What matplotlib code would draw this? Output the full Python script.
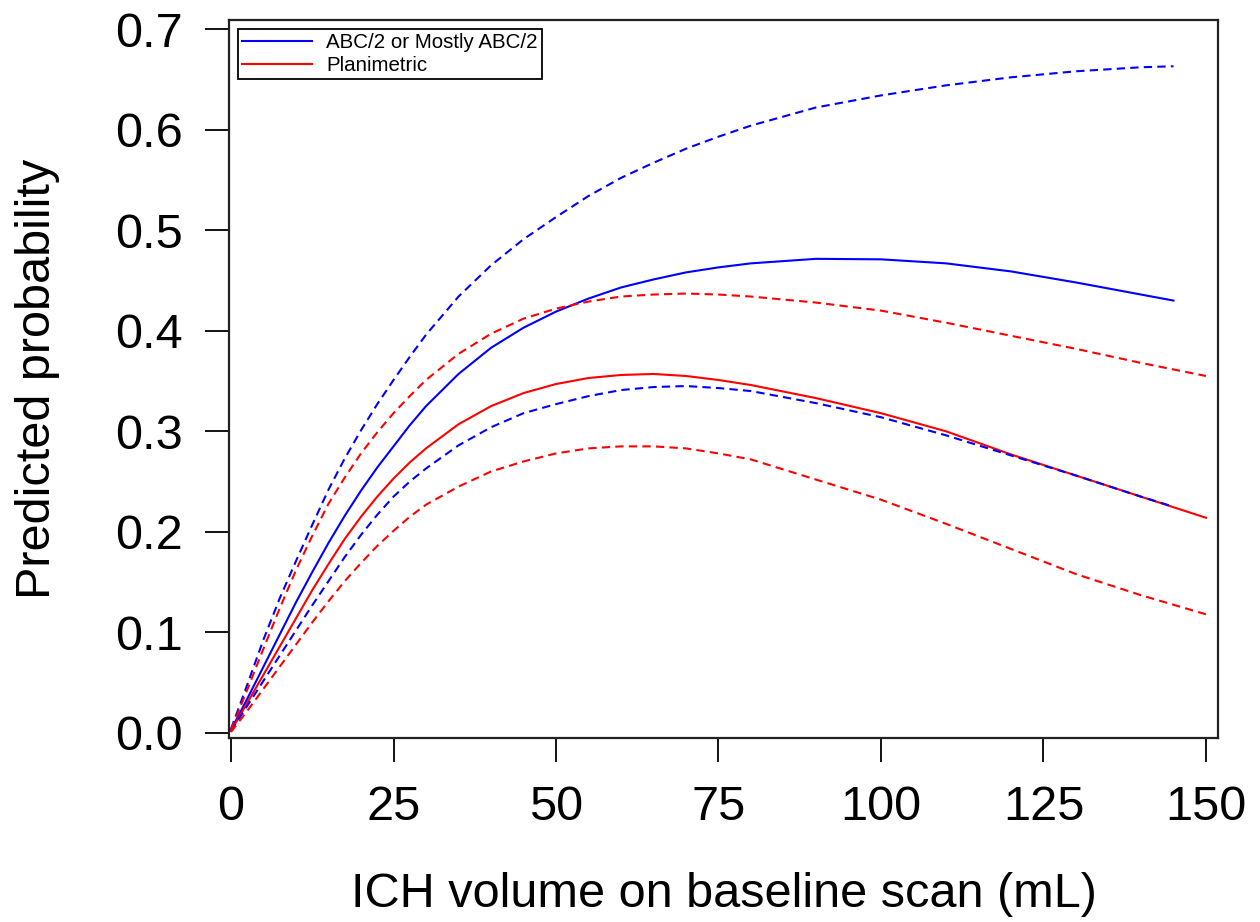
import matplotlib
matplotlib.use("Agg")
import matplotlib.pyplot as plt

plt.rcParams['font.family'] = ['Liberation Sans', 'DejaVu Sans']

# ---- data ----
x_blue = [0, 2.5, 5, 7.5, 10, 12.5, 15, 17.5, 20, 22.5, 25, 27.5, 30, 35, 40, 45, 50, 55, 60, 65, 70, 75, 80,
          90, 100, 110, 120, 130, 140, 145]
blue_fit = [0.003, 0.034, 0.066, 0.098, 0.130, 0.160, 0.189, 0.216, 0.241, 0.264, 0.285, 0.306, 0.325, 0.357,
            0.383, 0.403, 0.419, 0.432, 0.443, 0.451, 0.458, 0.463, 0.467, 0.4715, 0.471, 0.467, 0.459, 0.448,
            0.436, 0.430]
blue_upper = [0.004, 0.048, 0.093, 0.134, 0.171, 0.207, 0.242, 0.273, 0.301, 0.327, 0.351, 0.374, 0.396, 0.434,
              0.465, 0.491, 0.513, 0.534, 0.552, 0.567, 0.581, 0.593, 0.604, 0.622, 0.634, 0.644, 0.652, 0.658,
              0.662, 0.663]
blue_lower = [0.002, 0.027, 0.052, 0.077, 0.102, 0.127, 0.151, 0.175, 0.197, 0.217, 0.235, 0.250, 0.263, 0.286,
              0.304, 0.318, 0.327, 0.335, 0.341, 0.344, 0.345, 0.343, 0.340, 0.328, 0.314, 0.296, 0.276, 0.256,
              0.235, 0.225]

x_red = [0, 2.5, 5, 7.5, 10, 12.5, 15, 17.5, 20, 22.5, 25, 27.5, 30, 35, 40, 45, 50, 55, 60, 65, 70, 75, 80,
         90, 100, 110, 120, 130, 140, 150]
red_fit = [0.002, 0.030, 0.058, 0.086, 0.114, 0.142, 0.168, 0.193, 0.215, 0.235, 0.253, 0.269, 0.283, 0.307,
           0.325, 0.338, 0.347, 0.353, 0.356, 0.357, 0.355, 0.351, 0.346, 0.333, 0.318, 0.300, 0.277, 0.256,
           0.235, 0.214]
red_upper = [0.003, 0.043, 0.084, 0.124, 0.162, 0.196, 0.228, 0.254, 0.278, 0.299, 0.318, 0.335, 0.351, 0.377,
             0.397, 0.412, 0.422, 0.429, 0.434, 0.436, 0.437, 0.436, 0.434, 0.428, 0.420, 0.408, 0.395, 0.382,
             0.368, 0.355]
red_lower = [0.001, 0.022, 0.044, 0.066, 0.088, 0.110, 0.131, 0.151, 0.169, 0.186, 0.201, 0.215, 0.227, 0.245,
             0.260, 0.270, 0.278, 0.283, 0.285, 0.285, 0.283, 0.278, 0.272, 0.252, 0.232, 0.208, 0.183, 0.158,
             0.137, 0.118]

series_names = ["ABC/2 or Mostly ABC/2", "Planimetric"]
x_ticks = [0, 25, 50, 75, 100, 125, 150]
y_ticks = [0.0, 0.1, 0.2, 0.3, 0.4, 0.5, 0.6, 0.7]
y_ticklabels = ["0.0", "0.1", "0.2", "0.3", "0.4", "0.5", "0.6", "0.7"]
x_label = "ICH volume on baseline scan (mL)"
y_label = "Predicted probability"

# ---- figure ----
fig = plt.figure(figsize=(12.6, 9.22), dpi=100)
ax = fig.add_axes([229/1260, 1 - 738/922, 989/1260, 718/922])

BLUE = (0, 0, 1)
RED = (1, 0, 0)
lw = 1.5
dash = (4, 2.5)

ax.plot(x_blue, blue_fit, color=BLUE, lw=lw, label=series_names[0])
ax.plot(x_red, red_fit, color=RED, lw=lw, label=series_names[1])
ax.plot(x_blue, blue_upper, color=BLUE, lw=lw, dashes=dash)
ax.plot(x_blue, blue_lower, color=BLUE, lw=lw, dashes=dash)
ax.plot(x_red, red_upper, color=RED, lw=lw, dashes=dash)
ax.plot(x_red, red_lower, color=RED, lw=lw, dashes=dash)

ax.set_xlim(-0.31, 151.85)
ax.set_ylim(-0.005, 0.709)
ax.set_xticks(x_ticks)
ax.set_xticklabels([str(t) for t in x_ticks])
ax.set_yticks(y_ticks)
ax.set_yticklabels(y_ticklabels)

for sp in ax.spines.values():
    sp.set_linewidth(1.6)
    sp.set_color('#222222')

ax.tick_params(axis='both', direction='out', length=17.5, width=1.3, labelsize=35, color='black')
ax.tick_params(axis='y', pad=16)
ax.tick_params(axis='x', pad=16)

ax.set_xlabel(x_label, fontsize=35)
ax.set_ylabel(y_label, fontsize=35)
ax.xaxis.set_label_coords(0.5, -0.187)
ax.yaxis.set_label_coords(-0.171, 0.5)

leg = ax.legend(loc='upper left', bbox_to_anchor=(9/989, 1 - 9/718), fontsize=14.8,
                frameon=True, fancybox=False, shadow=False, handlelength=3.4,
                handletextpad=0.7, borderpad=0.2, labelspacing=0.18, borderaxespad=0)
leg.get_frame().set_edgecolor('black')
leg.get_frame().set_linewidth(1.3)
leg.get_frame().set_alpha(1)

fig.savefig("out.png", dpi=100)
